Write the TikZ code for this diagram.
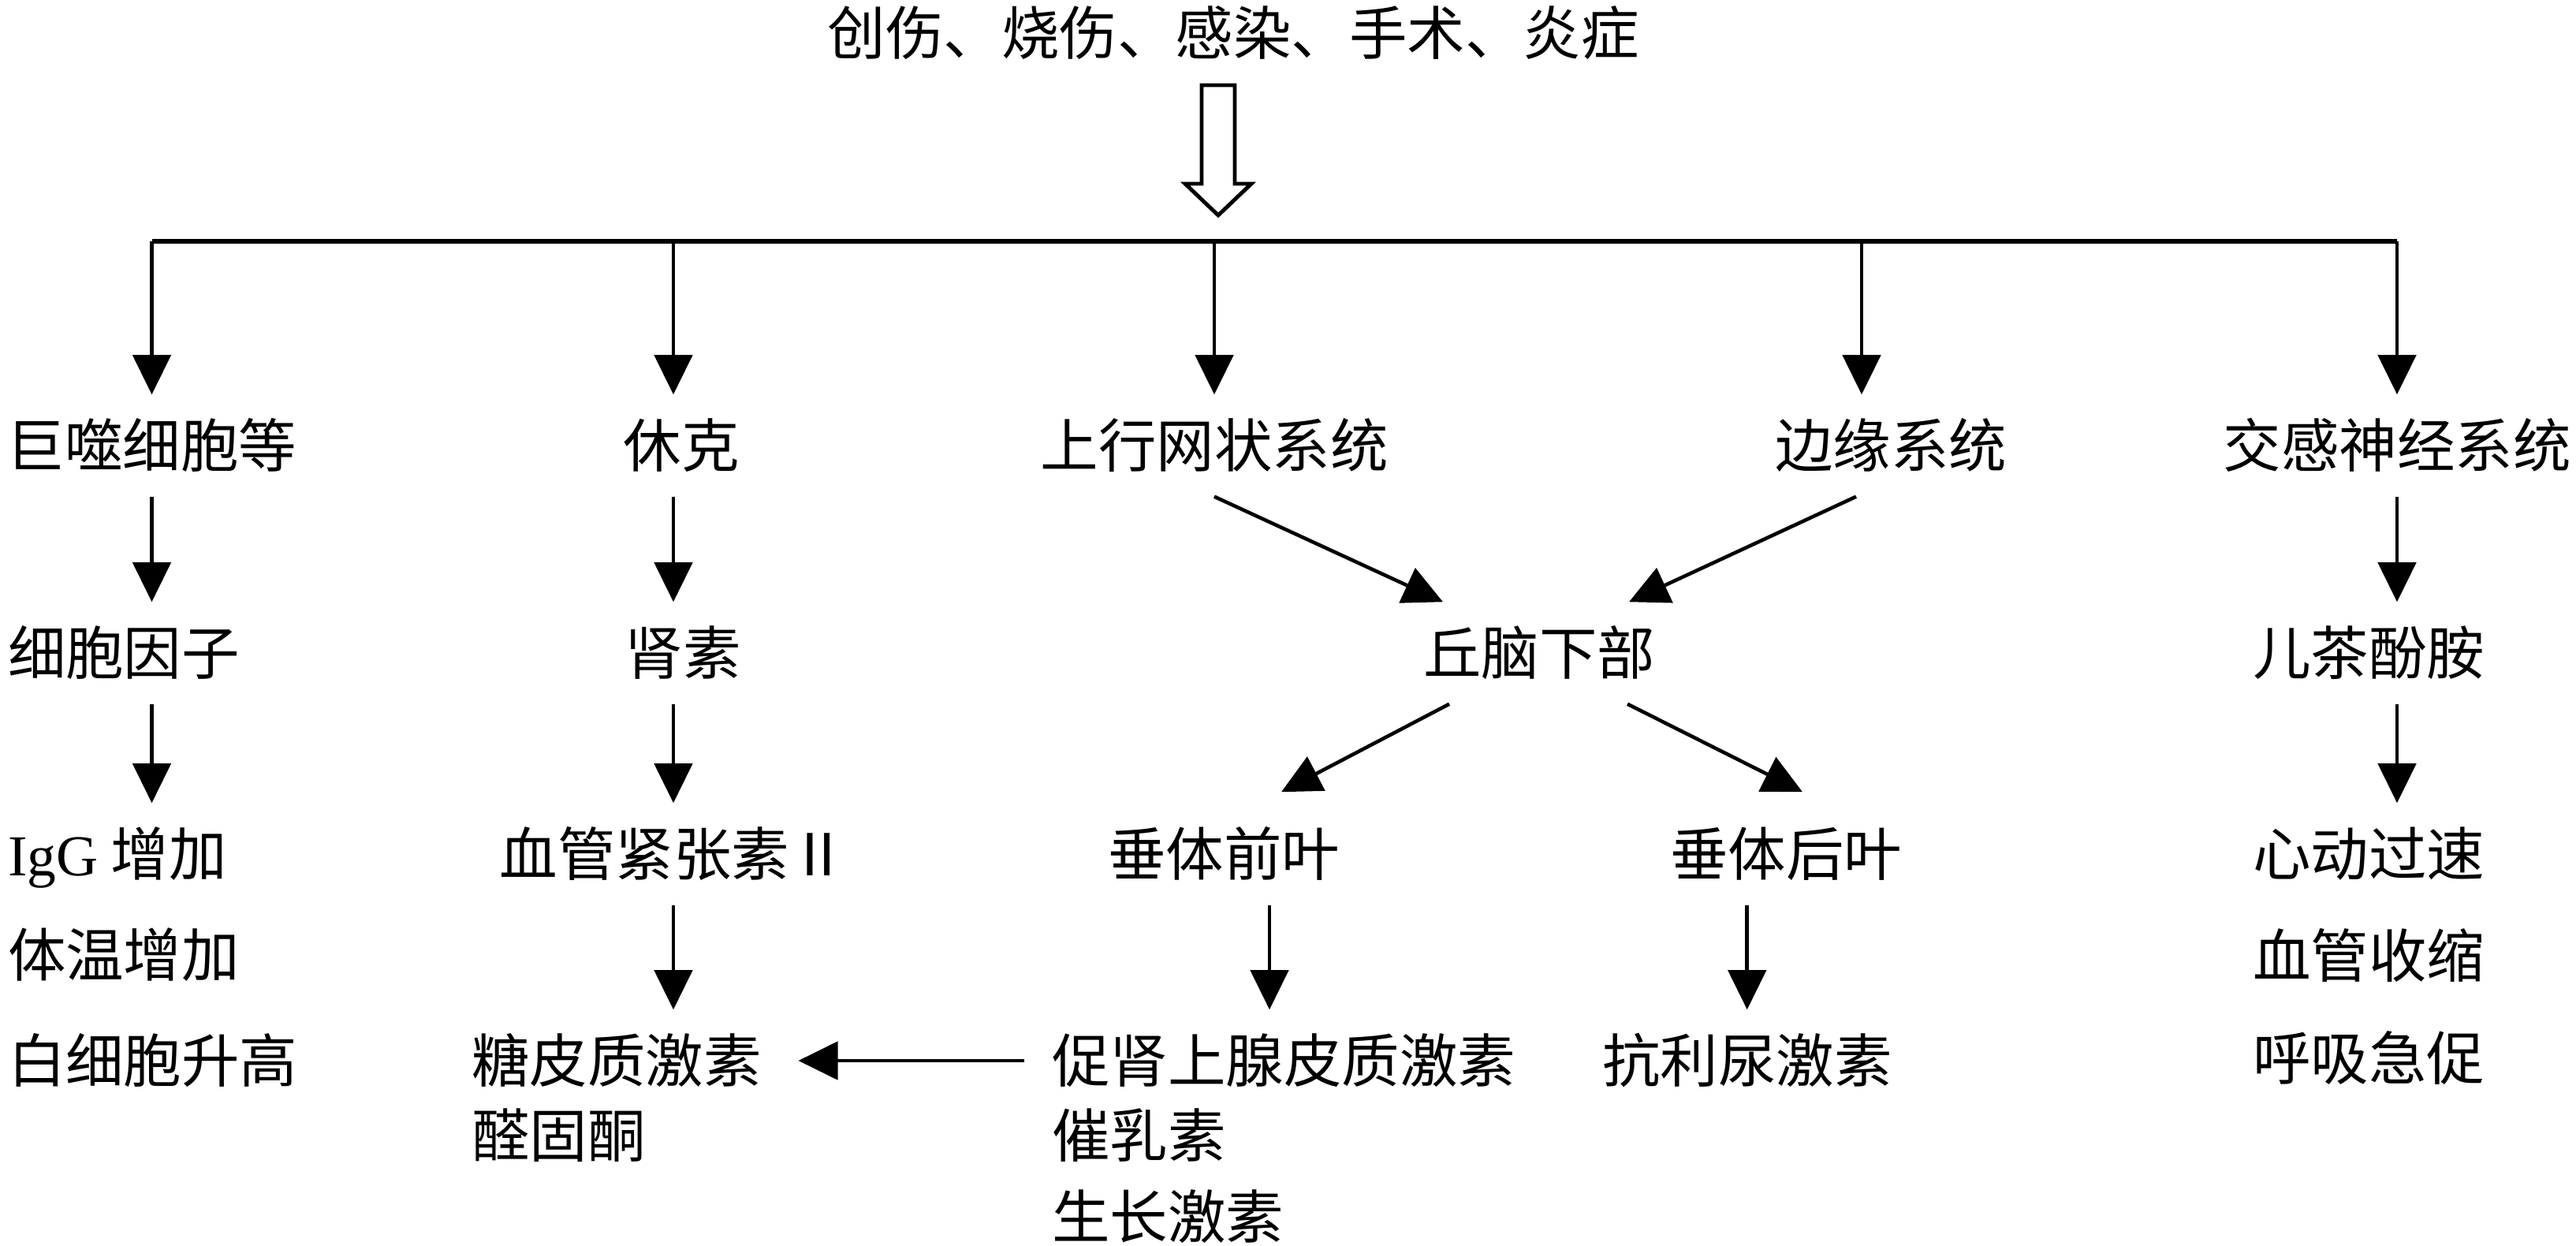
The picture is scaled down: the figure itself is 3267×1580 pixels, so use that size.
\documentclass[tikz,border=0pt]{standalone}
\usepackage{fontspec}
\setmainfont{Noto Sans CJK SC}
\newfontfamily\lat{Liberation Serif}
\usetikzlibrary{arrows.meta,calc}
\begin{document}
\begin{tikzpicture}[x=0.01cm,y=-0.01cm,
  txt/.style={inner sep=0pt, outer xsep=0pt, outer ysep=0.28cm, text height=0.646cm, text depth=0.088cm, font=\fontsize{20.9pt}{25pt}\selectfont},
  arr/.style={line width=1.3pt, -{Triangle[length=0.5cm,width=0.48cm]}},
  ln/.style={line width=1.6pt},
  hollow/.style={line width=1.4pt, line join=miter}
]
\useasboundingbox (0,0) rectangle (3267,1580);

% texts
\node[txt] (title) at (1564,42) {创伤、烧伤、感染、手术、炎症};

\node[txt] (jushi) at (192.5,565) {巨噬细胞等};
\node[txt] (xiuke) at (864,565) {休克};
\node[txt] (shangxing) at (1540,565) {上行网状系统};
\node[txt] (bianyuan) at (2398,565) {边缘系统};
\node[txt] (jiaogan) at (3040,565) {交感神经系统};

\node[txt, anchor=west] (yinzi) at (10,828) {细胞因子};
\node[txt] (shensu) at (866,828) {肾素};
\node[txt] (qiunao) at (1952,828) {丘脑下部};
\node[txt, anchor=west] (chafen) at (2857,828) {儿茶酚胺};

\node[txt, anchor=west] (igg) at (10,1083) {{\lat IgG} 增加};
\node[txt] (xueguan) at (854,1083) {血管紧张素Ⅱ};
\node[txt] (qianye) at (1552,1083) {垂体前叶};
\node[txt] (houye) at (2265,1083) {垂体后叶};
\node[txt, anchor=west] (xindong) at (2857,1083) {心动过速};

\node[txt, anchor=west] (tiwen) at (10,1211) {体温增加};
\node[txt, anchor=west] (shousuo) at (2857,1212) {血管收缩};

\node[txt, anchor=west] (baixibao) at (10,1345) {白细胞升高};
\node[txt, anchor=west] (tangpi) at (598,1345) {糖皮质激素};
\node[txt, anchor=west] (cushen) at (1334,1345) {促肾上腺皮质激素};
\node[txt, anchor=west] (kanglu) at (2032,1345) {抗利尿激素};
\node[txt, anchor=west] (huxi) at (2857,1342) {呼吸急促};

\node[txt, anchor=west] (quangu) at (598,1440) {醛固酮};
\node[txt, anchor=west] (cuiru) at (1334,1440) {催乳素};
\node[txt, anchor=west] (shengzhang) at (1334,1543) {生长激素};

% hollow arrow
\draw[hollow] (1524,108) -- (1566,108) -- (1566,233) -- (1587,233) -- (1545,273) -- (1503,233) -- (1524,233) -- cycle;

% bus line
\coordinate (bus) at (0,306);
\coordinate (d4) at (2361,306);
\draw[ln] (jushi.north |- bus) -- (jiaogan.north |- bus);

% drops
\draw[arr] (jushi.north |- bus) -- (jushi.north);
\draw[arr] (xueguan.north |- bus) -- (xueguan.north |- xiuke.north);
\draw[arr] (shangxing.north |- bus) -- (shangxing.north);
\draw[arr] (d4) -- (d4 |- bianyuan.north);
\draw[arr] (jiaogan.north |- bus) -- (jiaogan.north);

% row1 -> row2
\draw[arr] (jushi.south) -- (jushi.south |- yinzi.north);
\draw[arr] (xueguan.north |- xiuke.south) -- (xueguan.north |- shensu.north);
\draw[arr] (jiaogan.south) -- (jiaogan.south |- chafen.north);

% row2 -> row3
\draw[arr] (jushi.south |- yinzi.south) -- (jushi.south |- igg.north);
\draw[arr] (xueguan.north |- shensu.south) -- (xueguan.north);
\draw[arr] (jiaogan.south |- chafen.south) -- (jiaogan.south |- xindong.north);

% row3 -> row4
\draw[arr] (xueguan.south) -- (xueguan.south |- tangpi.north);
\coordinate (qa) at ($(qianye.south)+(58,0)$);
\draw[arr] (qa) -- (qa |- cushen.north);
\draw[arr] (kanglu.north |- houye.south) -- (kanglu.north);

% diagonals
\draw[arr] (shangxing.south) -- ($(qiunao.north)+(-122,0)$);
\draw[arr] ($(bianyuan.south)+(-44,0)$) -- ($(qiunao.north)+(114,0)$);
\draw[arr] ($(qiunao.south)+(-114,0)$) -- ($(qianye.north)+(73,-14)$);
\draw[arr] ($(qiunao.south)+(112,0)$) -- ($(houye.north)+(21,-14)$);

% horizontal
\draw[arr] ($(cushen.west)+(-35,0)$) -- ($(tangpi.east)+(47,0)$);
\end{tikzpicture}
\end{document}
